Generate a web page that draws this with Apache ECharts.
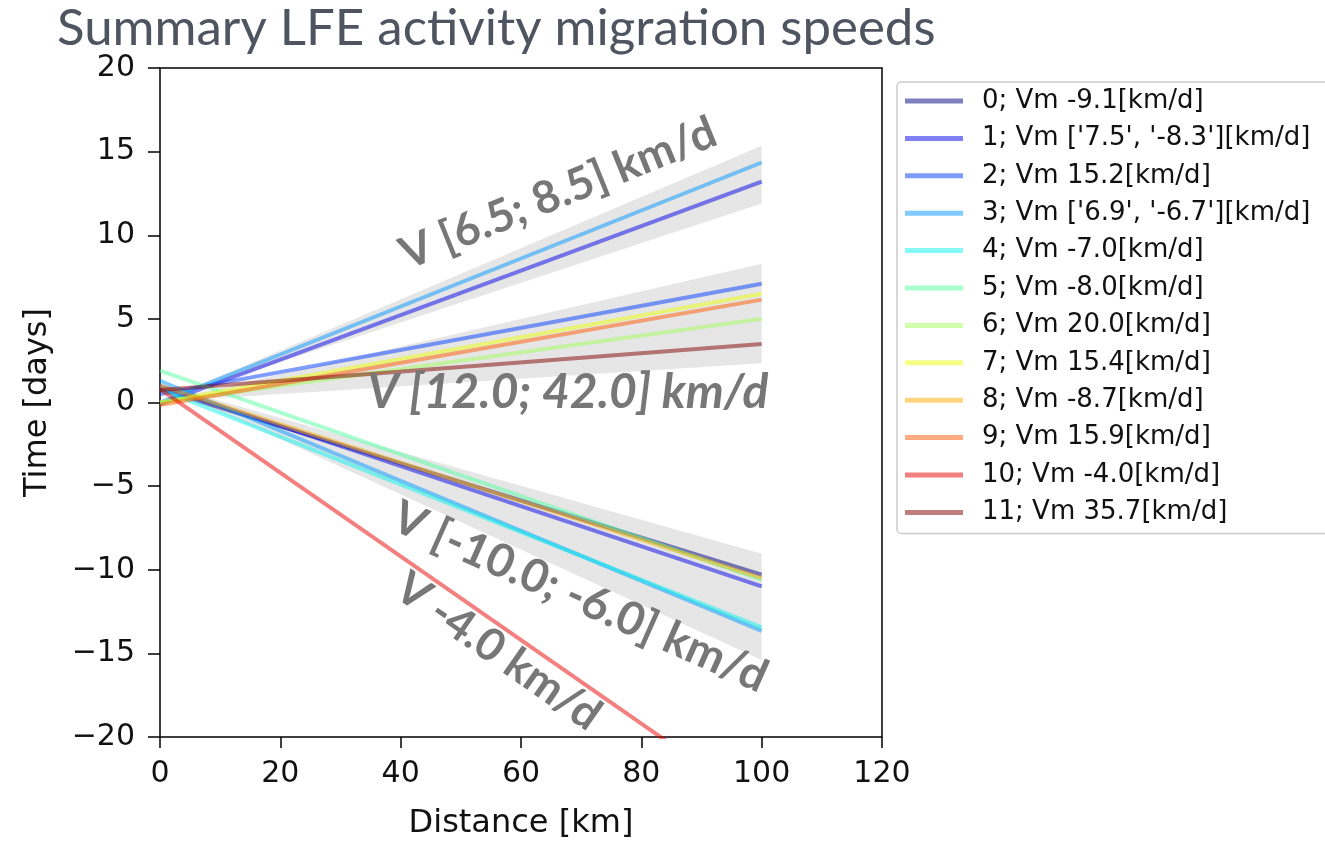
<!DOCTYPE html>
<html>
<head>
<meta charset="utf-8">
<script src="https://cdn.jsdelivr.net/npm/echarts@6/dist/echarts.min.js"></script>
<style>
html,body{margin:0;padding:0;background:#fff;}
#chart{width:1325px;height:845px;}
</style>
</head>
<body>
<div id="chart"></div>
<script>
// ---- data ----
const titleText = 'Summary LFE activity migration speeds';
const xTicks = [0, 20, 40, 60, 80, 100, 120];
const yTicks = [-20, -15, -10, -5, 0, 5, 10, 15, 20];
const distance = [0, 100];

const legendNames = [
  "0; Vm -9.1[km/d]",
  "1; Vm ['7.5', '-8.3'][km/d]",
  "2; Vm 15.2[km/d]",
  "3; Vm ['6.9', '-6.7'][km/d]",
  "4; Vm -7.0[km/d]",
  "5; Vm -8.0[km/d]",
  "6; Vm 20.0[km/d]",
  "7; Vm 15.4[km/d]",
  "8; Vm -8.7[km/d]",
  "9; Vm 15.9[km/d]",
  "10; Vm -4.0[km/d]",
  "11; Vm 35.7[km/d]"
];
const seriesColors = [
  'rgba(0,0,128,0.5)', 'rgba(0,0,232,0.5)', 'rgba(0,58,255,0.5)', 'rgba(0,150,255,0.5)',
  'rgba(11,243,235,0.5)', 'rgba(86,255,162,0.5)', 'rgba(161,255,87,0.5)', 'rgba(235,255,10,0.5)',
  'rgba(255,173,0,0.5)', 'rgba(255,87,0,0.5)', 'rgba(233,0,0,0.5)', 'rgba(128,0,0,0.5)'
];
// each segment: owner series index, time at distance 0, time at distance 100
const segOwner = [0, 1, 1, 2, 3, 3, 4, 5, 6, 7, 8, 9, 10, 11];
const segStart = [0.8, -0.1, 1.0, 0.5, 0.0, 1.3, 0.8, 1.9, 0.0, 0.0, 1.0, -0.15, 0.8, 0.75];
const segEnd   = [-10.3, 13.2, -11.0, 7.1, 14.35, -13.65, -13.45, -10.6, 5.0, 6.5, -10.5, 6.15, -24.2, 3.5];

// gray velocity-range bands: [start, end] edges
const bandHiStart = [0.05, 0.05, 1.1];
const bandHiEnd   = [15.35, 8.3, -9.05];
const bandLoStart = [0.05, 0.05, 1.1];
const bandLoEnd   = [11.9, 2.35, -15.4];

// annotation texts anchored in data coords
const annText = ['V [6.5; 8.5] km/d', 'V [12.0; 42.0] km/d', 'V [-10.0; -6.0] km/d', 'V -4.0 km/d'];
const annX = [66.2, 67.8, 69.8, 56.2];
const annY = [12.5, 0.6, -11.65, -14.9];
const annRot = [22, 0, -24, -35];
const annItalic = [false, true, false, false];
const annSize = [45, 48, 46, 45];

// ---- build ----
const chart = echarts.init(document.getElementById('chart'), null, {renderer: 'canvas'});

const bandData = bandHiStart.map((v, i) => [distance[0], bandLoStart[i], bandHiStart[i], distance[1], bandLoEnd[i], bandHiEnd[i]]);

const series = [{
  type: 'custom',
  name: 'bands',
  silent: true,
  z: 1,
  data: bandData,
  encode: {x: [0, 3], y: [1, 2, 4, 5]},
  renderItem: function (params, api) {
    const p1 = api.coord([api.value(0), api.value(2)]);
    const p2 = api.coord([api.value(3), api.value(5)]);
    const p3 = api.coord([api.value(3), api.value(4)]);
    const p4 = api.coord([api.value(0), api.value(1)]);
    return {
      type: 'polygon',
      shape: {points: echarts.graphic.clipPointsByRect([p1, p2, p3, p4], {
        x: params.coordSys.x, y: params.coordSys.y, width: params.coordSys.width, height: params.coordSys.height})},
      style: {fill: '#e6e6e6'}
    };
  }
}];

segOwner.forEach((o, k) => {
  series.push({
    type: 'line',
    name: legendNames[o],
    z: 2 + o,
    showSymbol: false,
    symbol: 'none',
    silent: true,
    clip: true,
    color: seriesColors[o],
    lineStyle: {width: 4, color: seriesColors[o]},
    data: [[distance[0], segStart[k]], [distance[1], segEnd[k]]]
  });
});

const minus = s => String(s).replace('-', '\u2212');

chart.setOption({
  animation: false,
  backgroundColor: '#fff',
  title: {
    text: titleText,
    left: 52, top: -2,
    textStyle: {fontFamily: 'Lato', fontWeight: 'normal', fontSize: 51, color: '#4f5560'}
  },
  grid: {left: 160, right: 443, top: 68, bottom: 104, show: true, borderColor: '#000', borderWidth: 1.5, backgroundColor: 'transparent'},
  legend: {
    orient: 'vertical',
    left: 897, top: 82,
    data: legendNames,
    icon: 'rect',
    itemWidth: 58, itemHeight: 5,
    itemGap: 11.4,
    padding: [6, 30, 8, 8],
    backgroundColor: '#fff',
    borderColor: '#cccccc', borderWidth: 1.5, borderRadius: 4,
    selectedMode: false,
    textStyle: {fontFamily: 'DejaVu Sans', fontSize: 26, color: '#111', lineHeight: 26, padding: [0, 0, 0, 14]}
  },
  xAxis: {
    type: 'value', min: 0, max: 120, interval: 20,
    name: 'Distance [km]', nameLocation: 'middle', nameGap: 71,
    nameTextStyle: {fontFamily: 'DejaVu Sans', fontSize: 32, color: '#111'},
    axisLine: {show: false, onZero: false},
    axisTick: {show: true, length: 11, lineStyle: {color: '#000', width: 1.5}},
    axisLabel: {margin: 22, fontFamily: 'DejaVu Sans', fontSize: 30, color: '#111', formatter: v => minus(v)},
    splitLine: {show: false}
  },
  yAxis: {
    type: 'value', min: -20, max: 20, interval: 5,
    name: 'Time [days]', nameLocation: 'middle', nameGap: 106, nameRotate: 90,
    nameTextStyle: {fontFamily: 'DejaVu Sans', fontSize: 32, color: '#111'},
    axisLine: {show: false, onZero: false},
    axisTick: {show: true, length: 12, lineStyle: {color: '#000', width: 1.5}},
    axisLabel: {margin: 25, fontFamily: 'DejaVu Sans', fontSize: 30, color: '#111', formatter: v => minus(v)},
    splitLine: {show: false}
  },
  series: series
});

const graphics = annText.map((t, i) => {
  const p = chart.convertToPixel({gridIndex: 0}, [annX[i], annY[i]]);
  return {
    type: 'text',
    x: p[0], y: p[1],
    rotation: annRot[i] * Math.PI / 180,
    z: 100,
    silent: true,
    style: {
      text: t,
      fill: '#777777',
      font: (annItalic[i] ? 'italic ' : '') + 'bold ' + annSize[i] + 'px Lato',
      align: 'center', verticalAlign: 'middle'
    }
  };
});
chart.setOption({graphic: graphics});
</script>
</body>
</html>
